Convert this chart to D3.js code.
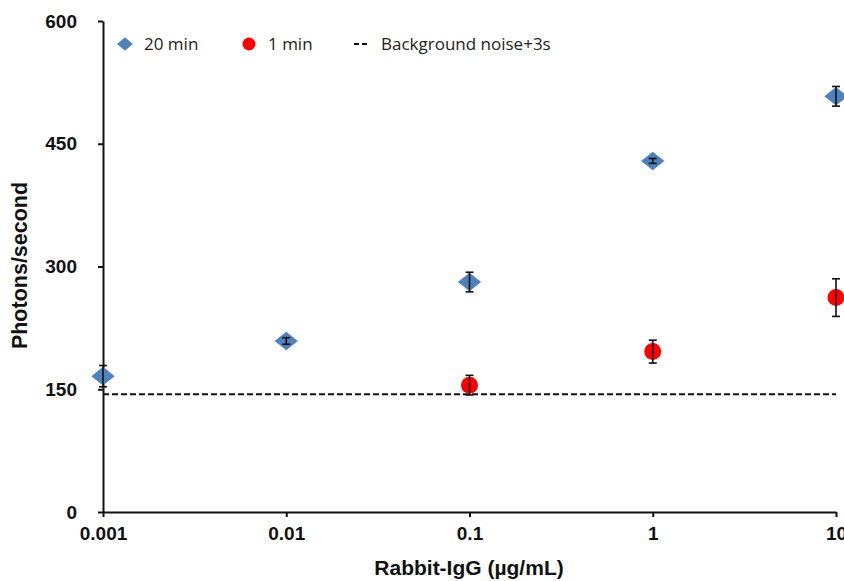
<!DOCTYPE html>
<html>
<head>
<meta charset="utf-8">
<script src="https://cdn.jsdelivr.net/npm/d3@7"></script>
<style>
  body { margin: 0; background: #fff; }
  svg { display: block; }
  .axis text { font-family: "Liberation Sans", Arial, sans-serif; font-weight: bold; font-size: 19px; fill: #111; }
  .legend text { font-family: "Open Sans", "Noto Sans", sans-serif; font-size: 17px; fill: #222; }
</style>
</head>
<body>
<svg id="chart" width="844" height="581"></svg>
<script>
'use strict';
// concentrations (ug/mL)
var concentrations = [0.001, 0.01, 0.1, 1, 10];
var xTickLabels = ['0.001', '0.01', '0.1', '1', '10'];
var yTicks = [0, 150, 300, 450, 600];

// 20 min series
var min20Conc = [0.001, 0.01, 0.1, 1, 10];
var min20Values = [166, 209, 281, 429, 508];
var min20Errors = [13, 4, 12, 3, 12];

// 1 min series
var min1Conc = [0.1, 1, 10];
var min1Values = [155, 196, 262];
var min1Errors = [12, 14, 23];

var backgroundNoise = 144;

var svg = d3.select('#chart'),
    margin = {top: 21, right: 8, bottom: 69, left: 103},
    width = +svg.attr('width') - margin.left - margin.right,
    height = +svg.attr('height') - margin.top - margin.bottom,
    g = svg.append('g').attr('transform', 'translate(' + margin.left + ',' + margin.top + ')');

var x = d3.scaleLog().domain([0.001, 10]).range([0, 733]);
var y = d3.scaleLinear().domain([0, 600]).range([height, 0]);

// axes
var xAxis = d3.axisBottom(x).tickValues(concentrations)
        .tickFormat(function (d, i) { return xTickLabels[i]; })
        .tickSize(5).tickSizeOuter(0).tickPadding(10);
var yAxis = d3.axisLeft(y).tickValues(yTicks).tickSize(5).tickSizeOuter(0).tickPadding(21);

g.append('g')
        .attr('class', 'axis')
        .attr('transform', 'translate(0,' + height + ')')
        .call(xAxis);
g.append('g')
        .attr('class', 'axis')
        .call(yAxis);
g.selectAll('.axis path, .axis line').attr('stroke', '#111').attr('stroke-width', 2);

// axis titles
svg.append('text')
        .attr('x', margin.left + 366).attr('y', 575)
        .attr('text-anchor', 'middle')
        .style('font-family', '"Liberation Sans", Arial, sans-serif')
        .style('font-weight', 'bold').style('font-size', '21px').style('fill', '#111')
        .text('Rabbit-IgG (µg/mL)');
svg.append('text')
        .attr('transform', 'translate(27,' + (margin.top + y(300) - 1) + ') rotate(-90)')
        .attr('text-anchor', 'middle')
        .style('font-family', '"Liberation Sans", Arial, sans-serif')
        .style('font-weight', 'bold').style('font-size', '21.5px').style('fill', '#111')
        .text('Photons/second');

// background noise line
g.append('line')
        .attr('x1', x(0.001)).attr('x2', x(10))
        .attr('y1', y(backgroundNoise)).attr('y2', y(backgroundNoise))
        .attr('stroke', '#111').attr('stroke-width', 2)
        .attr('stroke-dasharray', '6,3');

function drawSeries(conc, values, errors, marker) {
    var pts = conc.map(function (c, i) { return {c: c, v: values[i], e: errors[i]}; });
    var grp = g.append('g');
    if (marker === 'diamond') {
        grp.selectAll('path.pt').data(pts).enter().append('path')
                .attr('class', 'pt')
                .attr('d', d3.symbol().type(d3.symbolDiamond2).size(220))
                .attr('transform', function (d) { return 'translate(' + x(d.c) + ',' + y(d.v) + ') scale(1.25,1)'; })
                .attr('fill', '#4f81bd');
    } else {
        grp.selectAll('circle').data(pts).enter().append('circle')
                .attr('cx', function (d) { return x(d.c); })
                .attr('cy', function (d) { return y(d.v); })
                .attr('r', 8.5)
                .attr('fill', '#ff0000');
    }
    var eb = grp.selectAll('g.err').data(pts).enter().append('g').attr('class', 'err')
            .attr('stroke', '#111').attr('stroke-width', 1.6);
    eb.append('line')
            .attr('x1', function (d) { return x(d.c); }).attr('x2', function (d) { return x(d.c); })
            .attr('y1', function (d) { return y(d.v + d.e); }).attr('y2', function (d) { return y(d.v - d.e); });
    eb.append('line')
            .attr('x1', function (d) { return x(d.c) - 4; }).attr('x2', function (d) { return x(d.c) + 4; })
            .attr('y1', function (d) { return y(d.v + d.e); }).attr('y2', function (d) { return y(d.v + d.e); });
    eb.append('line')
            .attr('x1', function (d) { return x(d.c) - 4; }).attr('x2', function (d) { return x(d.c) + 4; })
            .attr('y1', function (d) { return y(d.v - d.e); }).attr('y2', function (d) { return y(d.v - d.e); });
}
drawSeries(min20Conc, min20Values, min20Errors, 'diamond');
drawSeries(min1Conc, min1Values, min1Errors, 'circle');

// legend
var legend = svg.append('g').attr('class', 'legend');
legend.append('path')
        .attr('d', d3.symbol().type(d3.symbolDiamond2).size(120))
        .attr('transform', 'translate(125,44) scale(1.15,1)')
        .attr('fill', '#4f81bd');
legend.append('text').attr('x', 144).attr('y', 50).text('20 min');
legend.append('circle').attr('cx', 249).attr('cy', 44).attr('r', 6.5).attr('fill', '#ff0000');
legend.append('text').attr('x', 268).attr('y', 50).text('1 min');
legend.append('line').attr('x1', 354).attr('x2', 369).attr('y1', 44).attr('y2', 44)
        .attr('stroke', '#111').attr('stroke-width', 2).attr('stroke-dasharray', '5,3');
legend.append('text').attr('x', 381).attr('y', 50).text('Background noise+3s');
</script>
</body>
</html>
